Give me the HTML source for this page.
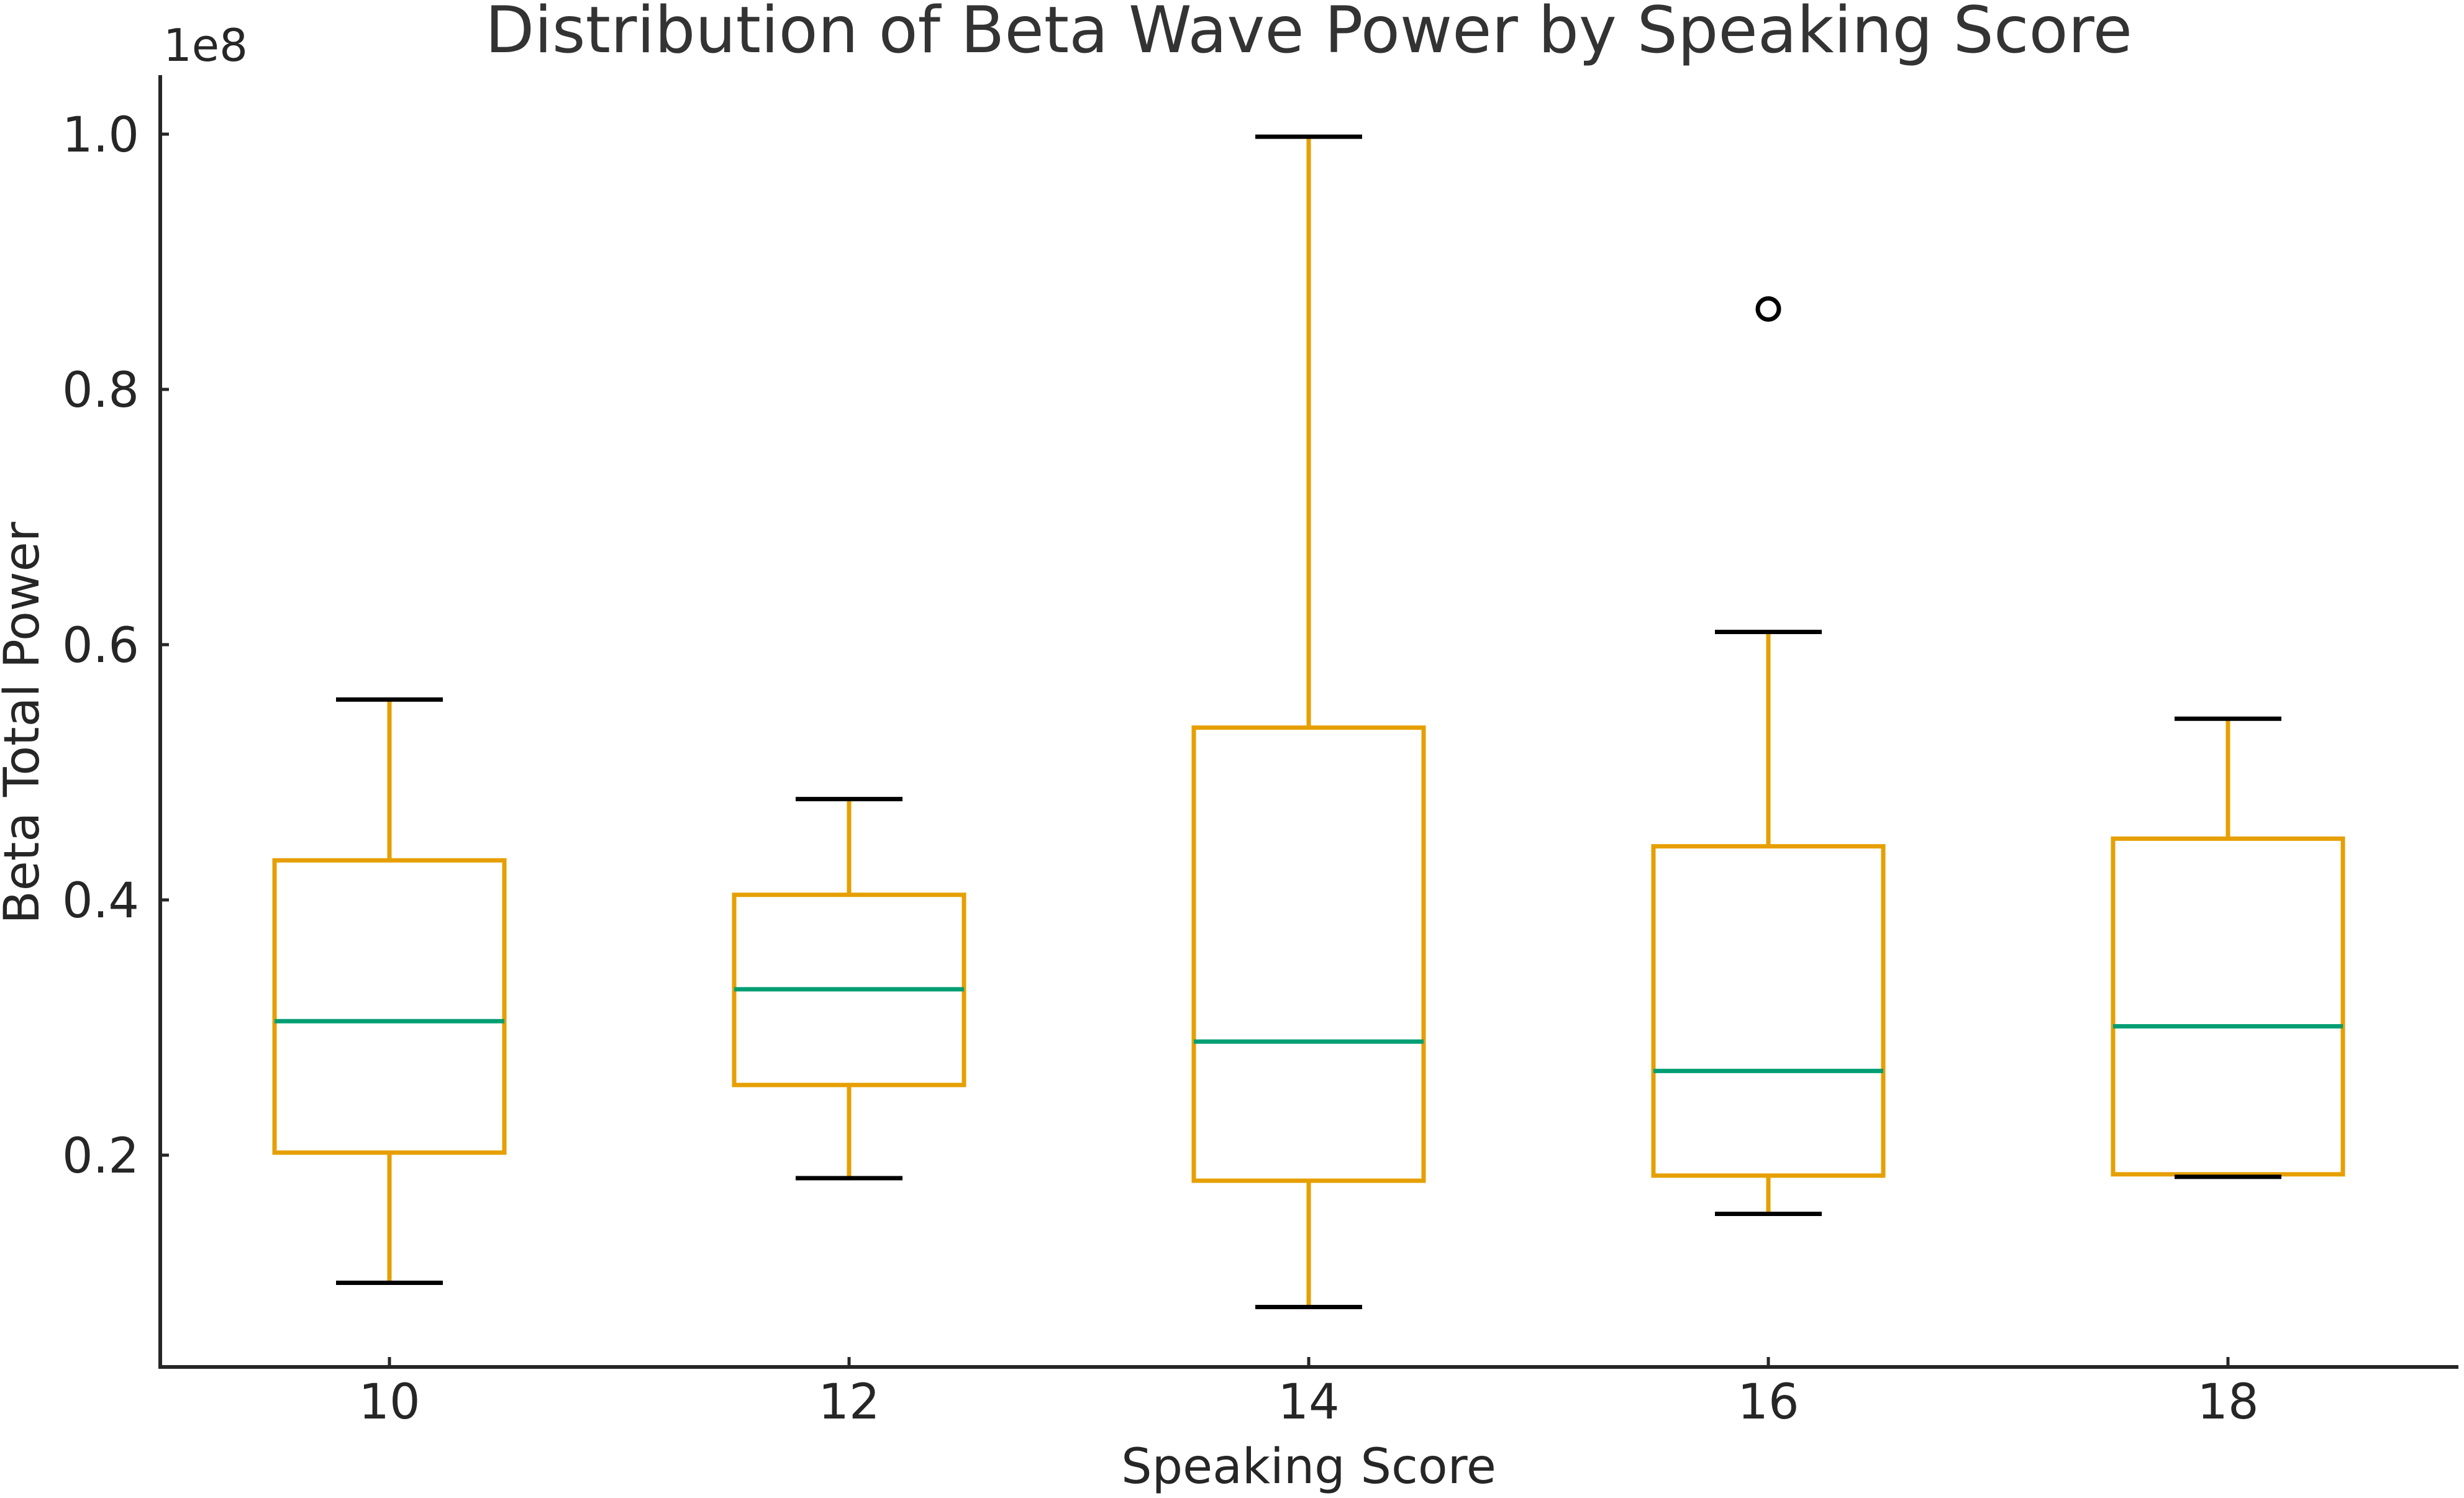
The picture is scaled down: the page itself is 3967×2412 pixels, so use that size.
<!DOCTYPE html>
<html><head><meta charset="utf-8"><style>
html,body{margin:0;padding:0;background:#fff}
svg{display:block}
text{font-family:"DejaVu Sans","Liberation Sans",sans-serif;fill:#262626}
</style></head><body>
<svg id="chart" width="3967" height="2412" viewBox="0 0 3967 2412" xmlns="http://www.w3.org/2000/svg">
<text x="2107" y="84" font-size="103" text-anchor="middle" style="fill:#333">Distribution of Beta Wave Power by Speaking Score</text>
<text x="263" y="98" font-size="72">1e8</text>
<text x="2107" y="2388" font-size="78" text-anchor="middle">Speaking Score</text>
<text x="0" y="0" font-size="78" text-anchor="middle" transform="translate(62,1164) rotate(-90)">Beta Total Power</text>
<g id="marks"></g>
<line x1="258" y1="121" x2="258" y2="2203" stroke="#262626" stroke-width="6"/>
<line x1="255" y1="2201" x2="3958" y2="2201" stroke="#262626" stroke-width="6"/>
<g id="ticks"></g>
</svg>
<script>
const categories = [10, 12, 14, 16, 18];
const whiskerLow = [0.100, 0.182, 0.081, 0.154, 0.183];
const q1 = [0.202, 0.255, 0.180, 0.184, 0.185];
const medians = [0.305, 0.330, 0.289, 0.266, 0.301];
const q3 = [0.431, 0.404, 0.535, 0.442, 0.448];
const whiskerHigh = [0.557, 0.479, 0.998, 0.610, 0.542];
const outlierCats = [16];
const outlierVals = [0.863];
const yTicks = [0.2, 0.4, 0.6, 0.8, 1.0];
const yTickLabels = ["0.2", "0.4", "0.6", "0.8", "1.0"];
const xTickLabels = ["10", "12", "14", "16", "18"];

const NS = "http://www.w3.org/2000/svg";
function xS(v){ return 627 + (v - 10) * 370; }
function yS(v){ return 2271 - v * 2055; }
function mk(tag, attrs, parent){ const e = document.createElementNS(NS, tag); for (const k in attrs) e.setAttribute(k, attrs[k]); parent.appendChild(e); return e; }
const marks = document.getElementById('marks');
const ticks = document.getElementById('ticks');
const orange = "#E69F00", green = "#009E73";
const halfW = 185, capW = 86;
categories.forEach((c, i) => {
  const g = mk('g', {}, marks);
  
  
  const cx = xS(c);
  const wl = mk('line', {x1: cx, x2: cx, y1: yS(q3[i]), y2: yS(whiskerHigh[i]), stroke: orange, 'stroke-width': 7}, g);
  
  
  const wl2 = mk('line', {x1: cx, x2: cx, y1: yS(q1[i]), y2: yS(whiskerLow[i]), stroke: orange, 'stroke-width': 7}, g);
  
  
  const box = mk('rect', {x: cx - halfW, y: yS(q3[i]), width: 2 * halfW, height: yS(q1[i]) - yS(q3[i]), fill: 'none', stroke: orange, 'stroke-width': 7}, g);
  
  
  const med = mk('line', {x1: cx - halfW, x2: cx + halfW, y1: yS(medians[i]), y2: yS(medians[i]), stroke: green, 'stroke-width': 7}, g);
  
  
  const capH = mk('line', {x1: cx - capW, x2: cx + capW, y1: yS(whiskerHigh[i]), y2: yS(whiskerHigh[i]), stroke: '#000', 'stroke-width': 7}, g);
  
  
  const capL = mk('line', {x1: cx - capW, x2: cx + capW, y1: yS(whiskerLow[i]), y2: yS(whiskerLow[i]), stroke: '#000', 'stroke-width': 7}, g);
  
  
});
outlierCats.forEach((c, i) => {
  const o = mk('circle', {cx: xS(c), cy: yS(outlierVals[i]), r: 17, fill: 'none', stroke: '#000', 'stroke-width': 7}, marks);
  
  
});
yTicks.forEach((v, i) => {
  const y = yS(v);
  const t = mk('line', {x1: 258, x2: 272, y1: y, y2: y, stroke: '#262626', 'stroke-width': 5}, ticks);
  
  
  const l = mk('text', {x: 224, y: y + 28, 'font-size': 78, 'text-anchor': 'end'}, ticks);
  l.textContent = yTickLabels[i];
  
  
});
categories.forEach((c, i) => {
  const x = xS(c);
  const t = mk('line', {x1: x, x2: x, y1: 2201, y2: 2185, stroke: '#262626', 'stroke-width': 5}, ticks);
  
  
  const l = mk('text', {x: x, y: 2284, 'font-size': 78, 'text-anchor': 'middle'}, ticks);
  l.textContent = xTickLabels[i];
  
  
});
</script>
</body></html>
